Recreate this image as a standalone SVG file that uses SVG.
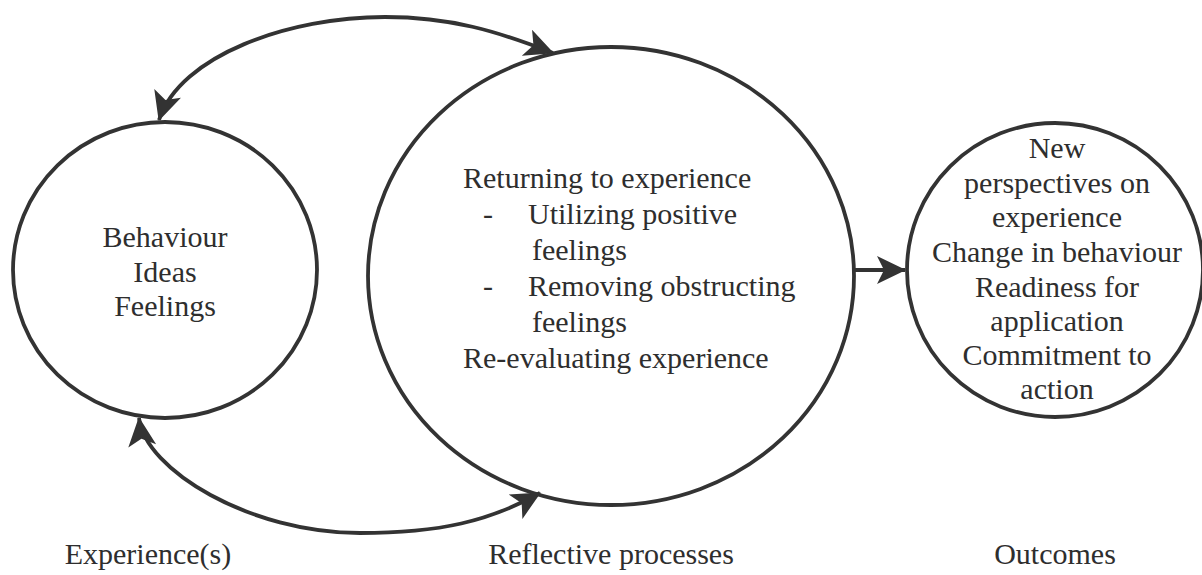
<svg xmlns="http://www.w3.org/2000/svg" width="1202" height="575" viewBox="0 0 1202 575">
<style>
.node{fill:none;stroke:#333;stroke-width:3.8}
.conn{fill:none;stroke:#333;stroke-width:3.8}
.t{font-family:'Liberation Serif','Times New Roman','DejaVu Serif',serif;font-size:30px;fill:#2e2e2e}
.c{text-anchor:middle}
</style>
<defs>
<marker id="ah" viewBox="-30 -16 32 32" refX="0" refY="0" markerWidth="32" markerHeight="32" markerUnits="userSpaceOnUse" orient="auto-start-reverse">
<path d="M1,0 L-28,-14 L-21,0 L-28,14 Z" fill="#333"/>
</marker>
</defs>
<rect width="1202" height="575" fill="#fff"/>
<g id="connectors">
<path class="conn" d="M159,120 C180,55 290,17 385,17 C450,17 497,31 553,53" marker-start="url(#ah)" marker-end="url(#ah)"/>
<path class="conn" d="M139,418 C145,470 250,533 360,533 C440,533 490,521 540,493" marker-start="url(#ah)" marker-end="url(#ah)"/>
<path class="conn" d="M855,270 L905,270" marker-end="url(#ah)"/>
</g>
<g id="experience" class="t" font-family="Liberation Serif, serif">
<ellipse class="node" cx="165" cy="270" rx="152" ry="148"/>
<text class="c" x="165" y="247">Behaviour</text>
<text class="c" x="165" y="282">Ideas</text>
<text class="c" x="165" y="316">Feelings</text>
</g>
<g id="reflective" class="t" font-family="Liberation Serif, serif">
<ellipse class="node" cx="611" cy="276" rx="243" ry="229"/>
<text x="463" y="188">Returning to experience</text>
<text x="483" y="224">-</text>
<text x="528" y="224">Utilizing positive</text>
<text x="532" y="260">feelings</text>
<text x="483" y="296">-</text>
<text x="528" y="296">Removing obstructing</text>
<text x="532" y="332">feelings</text>
<text x="463" y="368">Re-evaluating experience</text>
</g>
<g id="outcomes" class="t" font-family="Liberation Serif, serif">
<ellipse class="node" cx="1055" cy="270" rx="148" ry="147"/>
<text class="c" x="1057" y="158">New</text>
<text class="c" x="1057" y="193">perspectives on</text>
<text class="c" x="1057" y="227">experience</text>
<text class="c" x="1057" y="262">Change in behaviour</text>
<text class="c" x="1057" y="297">Readiness for</text>
<text class="c" x="1057" y="331">application</text>
<text class="c" x="1057" y="365">Commitment to</text>
<text class="c" x="1057" y="399">action</text>
</g>
<g id="labels" class="t" font-family="Liberation Serif, serif">
<text class="c" x="148" y="564">Experience(s)</text>
<text class="c" x="611" y="564">Reflective processes</text>
<text class="c" x="1055" y="564">Outcomes</text>
</g>
</svg>
